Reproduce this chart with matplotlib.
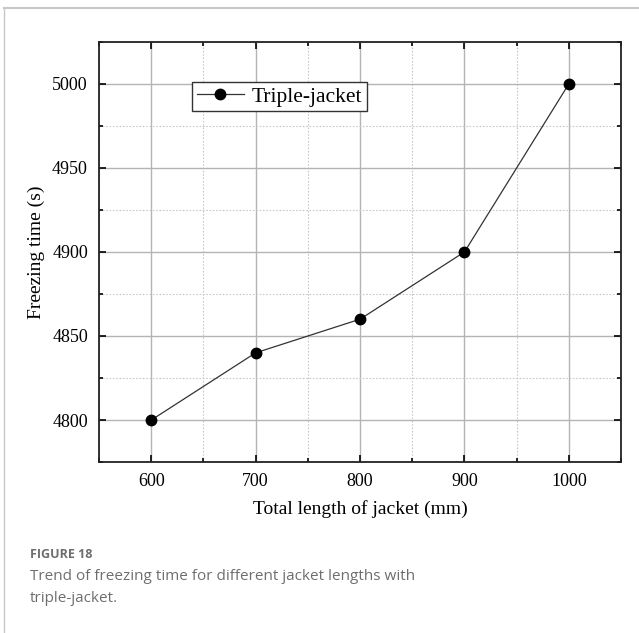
import matplotlib
matplotlib.use('Agg')
import matplotlib.pyplot as plt
from matplotlib.ticker import MultipleLocator
from matplotlib.lines import Line2D

# jacket length (mm) vs freezing time (s)
lengths = [600, 700, 800, 900, 1000]
freeze_time = [4800, 4840, 4860, 4900, 5000]
series_name = 'Triple-jacket'

fig = plt.figure(figsize=(6.39, 6.33), dpi=100)

# page frame lines (top and left)
fig.add_artist(Line2D([4 / 639, 1], [1 - 8 / 633, 1 - 8 / 633], color='#c8c8c8', lw=1.5))
fig.add_artist(Line2D([4 / 639, 4 / 639], [0, 1 - 8 / 633], color='#c8c8c8', lw=1.0))

ax = fig.add_axes([0.155, 0.270, 0.817, 0.664])
ax.plot(lengths, freeze_time, color='#333333', lw=0.9, marker='o',
        markersize=7.5, markerfacecolor='black', markeredgecolor='black',
        label=series_name, zorder=3)

ax.set_xlim(550, 1050)
ax.set_ylim(4775, 5025)
ax.xaxis.set_major_locator(MultipleLocator(100))
ax.xaxis.set_minor_locator(MultipleLocator(50))
ax.yaxis.set_major_locator(MultipleLocator(50))
ax.yaxis.set_minor_locator(MultipleLocator(25))

ax.grid(which='major', color='#b4b4b4', lw=1.0, ls='-')
ax.grid(which='minor', color='#c8c8c8', lw=0.8, ls=(0, (1.5, 1.5)))
ax.set_axisbelow(True)

ax.tick_params(which='both', direction='in', top=True, right=True,
               labelsize=13, pad=8, width=1.2)
ax.tick_params(which='major', length=5)
ax.tick_params(which='minor', length=3)
for lab in ax.get_xticklabels() + ax.get_yticklabels():
    lab.set_family('Liberation Serif')
for s in ax.spines.values():
    s.set_linewidth(1.3)
    s.set_color('#222222')

ax.set_xlabel('Total length of jacket (mm)', family='Liberation Serif',
              fontsize=14, labelpad=7)
ax.set_ylabel('Freezing time (s)', family='Liberation Serif',
              fontsize=14, labelpad=5)

leg = ax.legend(loc='upper left', bbox_to_anchor=(0.178, 0.905),
                borderaxespad=0, fancybox=False, framealpha=1,
                edgecolor='#333333', handlelength=2.2, handletextpad=0.35,
                borderpad=0.22, prop={'family': 'Liberation Serif', 'size': 15.5})
leg.get_frame().set_linewidth(1.0)

# caption
fig.text(30 / 639, 1 - 555 / 633, 'FIGURE 18', family='Open Sans',
         fontweight='bold', fontsize=9, color='#6e6e6e', va='center')
fig.text(30 / 639, 1 - 576 / 633,
         'Trend of freezing time for different jacket lengths with',
         family='Open Sans', fontsize=11, color='#6e6e6e', va='center')
fig.text(30 / 639, 1 - 599 / 633, 'triple-jacket.',
         family='Open Sans', fontsize=11, color='#6e6e6e', va='center')

fig.savefig('out.png', dpi=100)
